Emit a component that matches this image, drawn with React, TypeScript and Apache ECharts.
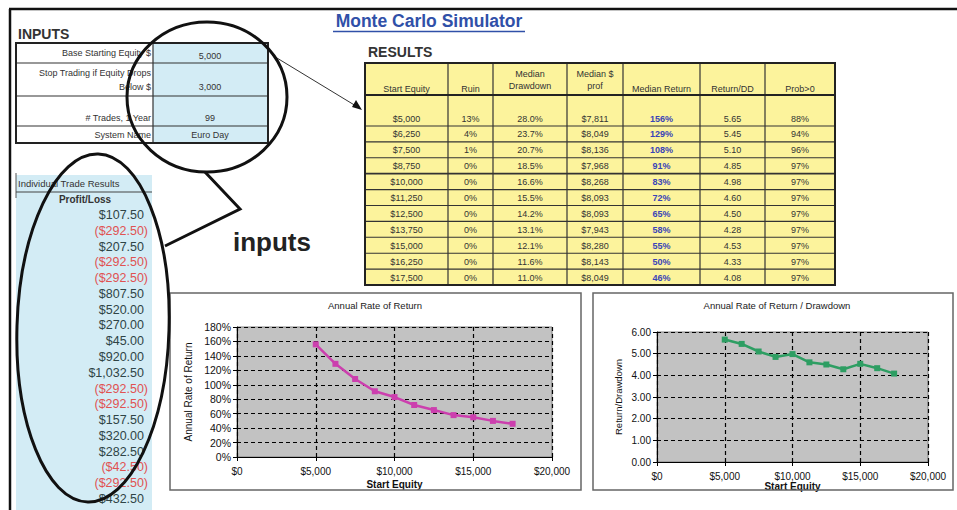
import React, { useEffect, useRef } from "react";
import * as echarts from "echarts";

// ---------- data ----------
const startEquity = [5000, 6250, 7500, 8750, 10000, 11250, 12500, 13750, 15000, 16250, 17500];
const ruinPct = [13, 4, 1, 0, 0, 0, 0, 0, 0, 0, 0];
const medianDrawdown = [28.0, 23.7, 20.7, 18.5, 16.6, 15.5, 14.2, 13.1, 12.1, 11.6, 11.0];
const medianProfit = [7811, 8049, 8136, 7968, 8268, 8093, 8093, 7943, 8280, 8143, 8049];
const medianReturn = [156, 129, 108, 91, 83, 72, 65, 58, 55, 50, 46];
const returnDD = [5.65, 5.45, 5.1, 4.85, 4.98, 4.6, 4.5, 4.28, 4.53, 4.33, 4.08];
const probPositive = [88, 94, 96, 97, 97, 97, 97, 97, 97, 97, 97];
const resultHeaders = ["Start Equity", "Ruin", "Median\nDrawdown", "Median $\nprof", "Median Return", "Return/DD", "Prob>0"];

const inputLabels = ["Base Starting Equity $", "Stop Trading if Equity Drops\nBelow $", "# Trades, 1 Year", "System Name"];
const inputValues = ["5,000", "3,000", "99", "Euro Day"];

const tradeResults = [107.5, -292.5, 207.5, -292.5, -292.5, 807.5, 520, 270, 45, 920, 1032.5, -292.5, -292.5, 157.5, 320, 282.5, -42.5, -292.5, 432.5];

const chart1Title = "Annual Rate of Return";
const chart2Title = "Annual Rate of Return / Drawdown";
const xAxisName = "Start Equity";
const y1Name = "Annual Rate of Return";
const y2Name = "Return/Drawdown";

// ---------- helpers ----------
const FONT = "'Liberation Sans', Arial, Helvetica, sans-serif";

function money(v: number, dec = 0) {
  const fixed = Math.abs(v).toFixed(dec);
  const parts = fixed.split(".");
  const intPart = parts[0].replace(/\B(?=(\d{3})+(?!\d))/g, ",");
  const s = "$" + intPart + (parts[1] ? "." + parts[1] : "");
  return v < 0 ? "(" + s + ")" : s;
}

function txt(text: string, x: number, y: number, o: any = {}) {
  return {
    type: "text",
    x,
    y,
    z: o.z ?? 10,
    silent: true,
    style: {
      text,
      fill: o.fill ?? "#333",
      fontFamily: o.family ?? FONT,
      fontSize: o.size ?? 9,
      fontWeight: o.weight ?? "normal",
      align: o.align ?? "left",
      verticalAlign: o.va ?? "middle",
      lineHeight: o.lh ?? undefined,
    },
  };
}
function ln(x1: number, y1: number, x2: number, y2: number, stroke = "#222", lineWidth = 1, z = 5) {
  return { type: "line", z, silent: true, shape: { x1, y1, x2, y2 }, style: { stroke, lineWidth } };
}
function rc(x: number, y: number, w: number, h: number, fill: any, stroke: any = null, lineWidth = 1, z = 1) {
  return { type: "rect", z, silent: true, shape: { x, y, width: w, height: h }, style: { fill, stroke, lineWidth } };
}

function buildGraphics() {
  const g: any[] = [];
  // page frame
  g.push(ln(9, 9, 957, 9, "#111", 2.5));
  g.push(ln(10, 9, 10, 510, "#111", 2.5));

  // title
  g.push(txt("Monte Carlo Simulator", 429, 21, { size: 17.5, weight: "bold", fill: "#3050a8", align: "center" }));
  g.push(ln(333, 31.5, 525, 31.5, "#3050a8", 1.3));

  // INPUTS block
  g.push(txt("INPUTS", 18, 34, { size: 14, weight: "bold", fill: "#333" }));
  const inTop = 43, inBottom = 143, inLeft = 16, inMid = 153, inRight = 268;
  const rowLines = [43, 63, 96, 126, 143];
  g.push(rc(inMid, inTop, inRight - inMid, inBottom - inTop, "#d3ecf5", null, 0, 1));
  for (let i = 1; i < rowLines.length - 1; i++) g.push(ln(inLeft, rowLines[i], inRight, rowLines[i], "#333", 1.2));
  g.push(ln(inMid, inTop, inMid, inBottom, "#333", 1.2));
  g.push(rc(inLeft, inTop, inRight - inLeft, inBottom - inTop, "none", "#222", 2, 6));
  const labelY = [53, 80, 118, 135];
  const valueY = [56, 87, 118, 135];
  inputLabels.forEach((l, i) => {
    g.push(txt(l, 151, labelY[i], { size: 9, align: "right", lh: 14 }));
    g.push(txt(inputValues[i], 210, valueY[i], { size: 9, align: "center" }));
  });

  // Individual trade results
  g.push(rc(16, 175, 136, 335, "#d3ecf5", null, 0, 1));
  g.push(ln(16, 173, 16, 198, "#555", 1));
  g.push(ln(16, 192, 152, 192, "#444", 1.2));
  g.push(txt("Individual Trade Results", 18, 183, { size: 9.5 }));
  g.push(txt("Profit/Loss", 85, 199, { size: 10, weight: "bold", align: "center" }));
  tradeResults.forEach((v, i) => {
    const neg = v < 0;
    g.push(txt(money(v, 2), neg ? 148 : 144, 215 + i * 15.78, { size: 12.5, align: "right", fill: neg ? "#e05252" : "#2f4446" }));
  });

  // callout ellipses & pointer
  g.push({ type: "ellipse", z: 100, silent: true, shape: { cx: 207, cy: 97, rx: 80, ry: 75 }, style: { fill: "none", stroke: "#111", lineWidth: 3 } });
  g.push({ type: "ellipse", z: 100, silent: true, x: 93, y: 328, rotation: -0.03, shape: { cx: 0, cy: 0, rx: 76, ry: 174 }, style: { fill: "none", stroke: "#111", lineWidth: 3 } });
  g.push({ type: "polyline", z: 100, silent: true, shape: { points: [[205, 172], [240, 209], [165, 246]] }, style: { fill: "none", stroke: "#111", lineWidth: 3 } });
  g.push(txt("inputs", 272, 242, { size: 26, weight: "bold", align: "center", fill: "#222" }));

  // arrow from inputs to results
  g.push(ln(272, 55, 356, 106, "#333", 1));
  g.push({ type: "polygon", z: 6, silent: true, shape: { points: [[362, 110], [352, 107], [356, 100]] }, style: { fill: "#111" } });

  // RESULTS table
  g.push(txt("RESULTS", 368, 52, { size: 14, weight: "bold", fill: "#333" }));
  const colX = [365, 448, 493, 567, 623, 700, 765, 835];
  const tTop = 63, hBottom = 95, firstBottom = 126, rowH = 15.9;
  const n = startEquity.length;
  const tBottom = firstBottom + (n - 1) * rowH;
  g.push(rc(colX[0], tTop, colX[7] - colX[0], tBottom - tTop, "#fcf39c", null, 0, 1));
  for (let c = 1; c < colX.length - 1; c++) g.push(ln(colX[c], tTop, colX[c], tBottom, "#333", 1.2));
  g.push(ln(colX[0], hBottom, colX[7], hBottom, "#222", 1.8));
  for (let r = 0; r < n - 1; r++) {
    const y = firstBottom + r * rowH;
    g.push(ln(colX[0], y, colX[7], y, "#333", r === 3 ? 1.8 : 1.1));
  }
  g.push(rc(colX[0], tTop, colX[7] - colX[0], tBottom - tTop, "none", "#222", 2, 6));
  resultHeaders.forEach((h, c) => {
    const cx = (colX[c] + colX[c + 1]) / 2;
    const two = h.indexOf("\n") >= 0;
    g.push(txt(h, cx, two ? 80 : 89, { size: 9, align: "center", lh: 12 }));
  });
  for (let r = 0; r < n; r++) {
    const y = r === 0 ? 119 : firstBottom + (r - 1) * rowH + rowH / 2 + 0.5;
    const cells = [
      money(startEquity[r]),
      ruinPct[r] + "%",
      medianDrawdown[r].toFixed(1) + "%",
      money(medianProfit[r]),
      medianReturn[r] + "%",
      returnDD[r].toFixed(2),
      probPositive[r] + "%",
    ];
    cells.forEach((s, c) => {
      const cx = (colX[c] + colX[c + 1]) / 2;
      const isRet = c === 4;
      g.push(txt(s, cx, y, { size: 9, align: "center", weight: isRet ? "bold" : "normal", fill: isRet ? "#3a44b8" : "#333" }));
    });
  }

  // chart panels
  g.push(rc(170, 293, 411, 197, "none", "#666", 1.5, 1));
  g.push(rc(593, 293, 360, 197, "none", "#666", 1.5, 1));
  g.push(txt(chart1Title, 375, 305, { size: 9.5, align: "center", fill: "#222" }));
  g.push(txt(chart2Title, 777, 305, { size: 9.5, align: "center", fill: "#222" }));
  return g;
}

function axisCommon() {
  return {
    axisLine: { show: true, lineStyle: { color: "#000", width: 1 } },
    axisTick: { show: true, inside: false, length: 4, lineStyle: { color: "#000" } },
    splitLine: { show: true, lineStyle: { color: "#000", type: [4, 3], width: 1.2 } },
  };
}

export default function App() {
  const ref = useRef<HTMLDivElement>(null);
  useEffect(() => {
    if (!ref.current) return;
    const chart = echarts.init(ref.current, undefined, { renderer: "svg" });
    const line1 = startEquity.map((x, i) => [x, medianReturn[i]]);
    const line2 = startEquity.map((x, i) => [x, returnDD[i]]);
    const xAxisBase = (gridIndex: number, nameGap: number) => ({
      type: "value",
      gridIndex,
      min: 0,
      max: 20000,
      interval: 5000,
      name: xAxisName,
      nameLocation: "middle",
      nameGap,
      nameTextStyle: { fontFamily: FONT, fontSize: 10, fontWeight: "bold", color: "#111" },
      axisLabel: { formatter: (v: number) => money(v), fontFamily: FONT, fontSize: 10, color: "#111", margin: 9 },
      ...axisCommon(),
    });
    chart.setOption({
      animation: false,
      backgroundColor: "#fff",
      graphic: { elements: buildGraphics() },
      grid: [
        { left: 237, top: 327, width: 315, height: 130, show: true, backgroundColor: "#c2c2c2", borderColor: "#808080", borderWidth: 1 },
        { left: 657, top: 332, width: 271, height: 130, show: true, backgroundColor: "#c2c2c2", borderColor: "#808080", borderWidth: 1 },
      ],
      xAxis: [xAxisBase(0, 22), xAxisBase(1, 19)],
      yAxis: [
        {
          type: "value",
          gridIndex: 0,
          min: 0,
          max: 180,
          interval: 20,
          name: y1Name,
          nameLocation: "middle",
          nameGap: 44,
          nameTextStyle: { fontFamily: FONT, fontSize: 10, color: "#111" },
          axisLabel: { formatter: (v: number) => v + "%", fontFamily: FONT, fontSize: 10.5, color: "#111", margin: 6 },
          ...axisCommon(),
        },
        {
          type: "value",
          gridIndex: 1,
          min: 0,
          max: 6,
          interval: 1,
          name: y2Name,
          nameLocation: "middle",
          nameGap: 34,
          nameTextStyle: { fontFamily: FONT, fontSize: 9.5, color: "#111" },
          axisLabel: { formatter: (v: number) => v.toFixed(2), fontFamily: FONT, fontSize: 10, color: "#111", margin: 6 },
          ...axisCommon(),
        },
      ],
      series: [
        {
          type: "line",
          xAxisIndex: 0,
          yAxisIndex: 0,
          data: line1,
          symbol: "rect",
          symbolSize: 6,
          lineStyle: { color: "#cc3fae", width: 2.5 },
          itemStyle: { color: "#cc3fae" },
          silent: true,
        },
        {
          type: "line",
          xAxisIndex: 1,
          yAxisIndex: 1,
          data: line2,
          symbol: "rect",
          symbolSize: 6,
          lineStyle: { color: "#2e9e63", width: 2.5 },
          itemStyle: { color: "#2e9e63" },
          silent: true,
        },
      ],
    });
    return () => chart.dispose();
  }, []);
  return <div ref={ref} style={{ position: "fixed", left: 0, top: 0, width: 957, height: 510, background: "#fff" }} />;
}
